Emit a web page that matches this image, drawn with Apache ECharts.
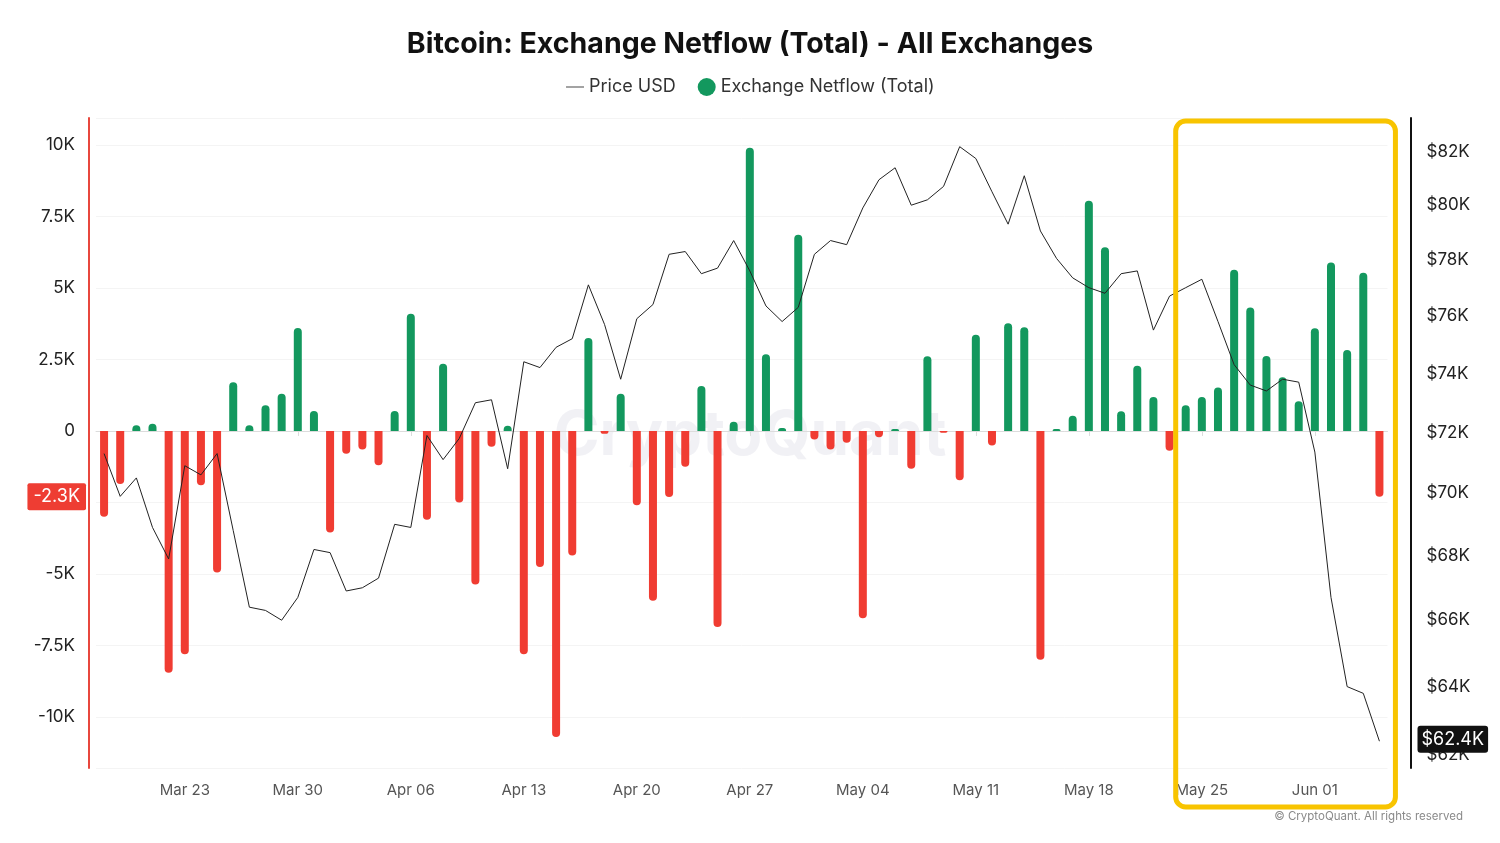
<!DOCTYPE html>
<html>
<head>
<meta charset="utf-8">
<script src="https://cdn.jsdelivr.net/npm/echarts@6.0.0/dist/echarts.min.js"></script>
<style>
html,body{margin:0;padding:0;background:#fff;}
#chart{width:1500px;height:843px;}
</style>
</head>
<body>
<div id="chart"></div>
<script>
// ---- Data ----
var monthNames = ['Mar', 'Apr', 'May', 'Jun'];
var monthDays = [31, 30, 31, 30];
var startDay = 18; // Mar 18
var dayCount = 80; // through Jun 05
var categories = [];
(function () {
  var m = 0, d = startDay;
  for (var i = 0; i < dayCount; i++) {
    categories.push(monthNames[m] + ' ' + (d < 10 ? '0' + d : '' + d));
    d++;
    if (d > monthDays[m]) { d = 1; m++; }
  }
})();

// Exchange netflow (BTC)
var netflow = [
  -3000, -1850, 200, 250, -8450, -7800, -1900, -4950, 1700, 200,
  900, 1300, 3600, 700, -3550, -800, -650, -1200, 700, 4100,
  -3100, 2350, -2500, -5370, -550, 180, -7800, -4750, -10700, -4350,
  3250, -100, 1300, -2600, -5930, -2310, -1250, 1570, -6850, 320,
  9900, 2680, 100, 6860, -300, -650, -410, -6550, -220, 70,
  -1320, 2610, -60, -1720, 3360, -510, 3770, 3630, -8000, 70,
  530, 8050, 6420, 690, 2280, 1190, -690, 900, 1190, 1520,
  5640, 4320, 2620, 1880, 1040, 3590, 5890, 2830, 5530, -2300
];

// Price USD
var price = [
  71300, 69900, 70500, 68900, 67900, 70900, 70600, 71300, 68800, 66400,
  66300, 66000, 66700, 68200, 68100, 66900, 67000, 67300, 69000, 68900,
  71900, 71100, 71800, 73000, 73100, 70800, 74400, 74200, 74900, 75200,
  77100, 75700, 73800, 75900, 76400, 78200, 78300, 77500, 77700, 78700,
  77600, 76350, 75800, 76300, 78200, 78700, 78550, 79900, 80950, 81400,
  80000, 80200, 80700, 82200, 81750, 80500, 79300, 81100, 79050, 78050,
  77350, 77000, 76800, 77500, 77600, 75500, 76700, 77000, 77300, 75800,
  74300, 73600, 73400, 73800, 73700, 71350, 66700, 64000, 63800, 62400
];

var priceTicks = [62000, 64000, 66000, 68000, 70000, 72000, 74000, 76000, 78000, 80000, 82000];
var lastNetflow = netflow[netflow.length - 1];
var lastPrice = price[price.length - 1];
var highlightStart = 'May 24';
var highlightEnd = 'Jun 05';

// ---- Chart ----
var GREEN = '#13985e';
var RED = '#f03c32';
var FONT = 'Inter, "Noto Sans", sans-serif';

var barData = netflow.map(function (v) {
  return {
    value: v,
    itemStyle: {
      color: v >= 0 ? GREEN : RED,
      borderRadius: v >= 0 ? [4, 4, 0, 0] : [0, 0, 4, 4]
    }
  };
});

var priceMarks = priceTicks.map(function (v) {
  return { yAxis: v, label: { formatter: '$' + (v / 1000) + 'K' } };
});
priceMarks.push({
  yAxis: lastPrice,
  label: {
    formatter: '$' + (lastPrice / 1000).toFixed(1) + 'K',
    backgroundColor: '#111',
    color: '#fff',
    fontSize: 18,
    padding: [5, 4, 4, 4],
    borderRadius: 3,
    distance: 30,
    offset: [0, -2]
  }
});

function fmtK(v) {
  if (v === 0) return '0';
  return (v / 1000) + 'K';
}

var chart = echarts.init(document.getElementById('chart'));
var option = {
  backgroundColor: '#fff',
  animation: false,
  textStyle: { fontFamily: FONT },
  title: {
    text: 'Bitcoin: Exchange Netflow (Total) - All Exchanges',
    left: 'center',
    top: 25,
    textStyle: { fontSize: 28.5, fontWeight: 'bold', color: '#111', fontFamily: FONT }
  },
  legend: {
    top: 73,
    left: 'center',
    itemGap: 22,
    itemWidth: 18,
    itemHeight: 18,
    textStyle: { fontSize: 18, color: '#333', fontFamily: FONT },
    data: [
      { name: 'Price USD', itemStyle: { opacity: 0 }, lineStyle: { color: '#666', width: 1.2 } },
      { name: 'Exchange Netflow (Total)', icon: 'circle' }
    ]
  },
  grid: { left: 96, right: 112.5, top: 118, bottom: 75 },
  xAxis: {
    type: 'category',
    data: categories,
    boundaryGap: true,
    axisLine: { lineStyle: { color: '#dcdcdc', width: 1 } },
    axisTick: {
      show: true,
      alignWithLabel: true,
      length: 5,
      lineStyle: { color: '#dcdcdc' },
      interval: function (i) { return (i - 5) % 7 === 0; }
    },
    axisLabel: {
      color: '#555',
      fontSize: 15,
      margin: 15,
      interval: function (i) { return (i - 5) % 7 === 0; }
    },
    splitLine: { show: false }
  },
  yAxis: [
    {
      type: 'value',
      position: 'left',
      min: -11780,
      max: 10940,
      minInterval: 2500,
      maxInterval: 2500,
      offset: 7,
      axisLine: { show: true, lineStyle: { color: '#e8473d', width: 2 } },
      axisTick: { show: false },
      axisLabel: {
        color: '#222',
        fontSize: 17,
        margin: 14,
        showMinLabel: false,
        showMaxLabel: false,
        formatter: fmtK
      },
      splitLine: { show: true, lineStyle: { color: '#f4f4f4' } }
    },
    {
      type: 'log',
      position: 'right',
      min: 61630,
      max: 83300,
      offset: 23.5,
      axisLine: { show: true, lineStyle: { color: '#111', width: 2 } },
      axisTick: { show: false },
      axisLabel: { show: false },
      splitLine: { show: false }
    }
  ],
  graphic: [
    {
      type: 'text',
      left: 'center',
      top: 405,
      z: 0,
      silent: true,
      style: {
        text: 'CryptoQuant',
        fontSize: 62,
        fontWeight: 'bold',
        fontFamily: FONT,
        fill: 'rgba(190,192,210,0.22)'
      }
    },
    {
      type: 'text',
      right: 37,
      top: 811,
      silent: true,
      style: {
        text: '\u00A9 CryptoQuant. All rights reserved',
        fontSize: 11.5,
        fontFamily: FONT,
        fill: '#8a8a8a'
      }
    }
  ],
  series: [
    {
      name: 'Exchange Netflow (Total)',
      type: 'bar',
      yAxisIndex: 0,
      barWidth: 8,
      itemStyle: { color: GREEN },
      data: barData,
      z: 2,
      markLine: {
        silent: true,
        symbol: 'none',
        lineStyle: { color: 'rgba(0,0,0,0)', width: 0 },
        label: {
          show: true,
          position: 'start',
          distance: 10,
          formatter: (lastNetflow / 1000).toFixed(1) + 'K',
          color: '#fff',
          fontSize: 18,
          backgroundColor: '#ee3d33',
          padding: [5, 6, 4, 6],
          borderRadius: 2
        },
        data: [{ yAxis: lastNetflow }]
      }
    },
    {
      name: 'Price USD',
      type: 'line',
      yAxisIndex: 1,
      data: price,
      symbol: 'none',
      showSymbol: false,
      z: 3,
      itemStyle: { color: '#666' },
      lineStyle: { color: '#222', width: 1 },
      markLine: {
        silent: true,
        symbol: 'none',
        lineStyle: { color: 'rgba(0,0,0,0)', width: 0 },
        label: {
          show: true,
          position: 'end',
          distance: 39,
          color: '#222',
          fontSize: 17
        },
        data: priceMarks
      }
    }
  ]
};
chart.setOption(option);

// Yellow highlight box around the final stretch
var xs = chart.convertToPixel({ xAxisIndex: 0 }, highlightStart);
var xe = chart.convertToPixel({ xAxisIndex: 0 }, highlightEnd);
chart.setOption({
  graphic: [
    option.graphic[0],
    option.graphic[1],
    {
      type: 'rect',
      silent: true,
      z: 10,
      shape: { x: xs - 10, y: 121, width: (xe + 16) - (xs - 10), height: 686, r: 10 },
      style: { fill: 'none', stroke: '#f8c400', lineWidth: 5 }
    }
  ]
});
</script>
</body>
</html>
